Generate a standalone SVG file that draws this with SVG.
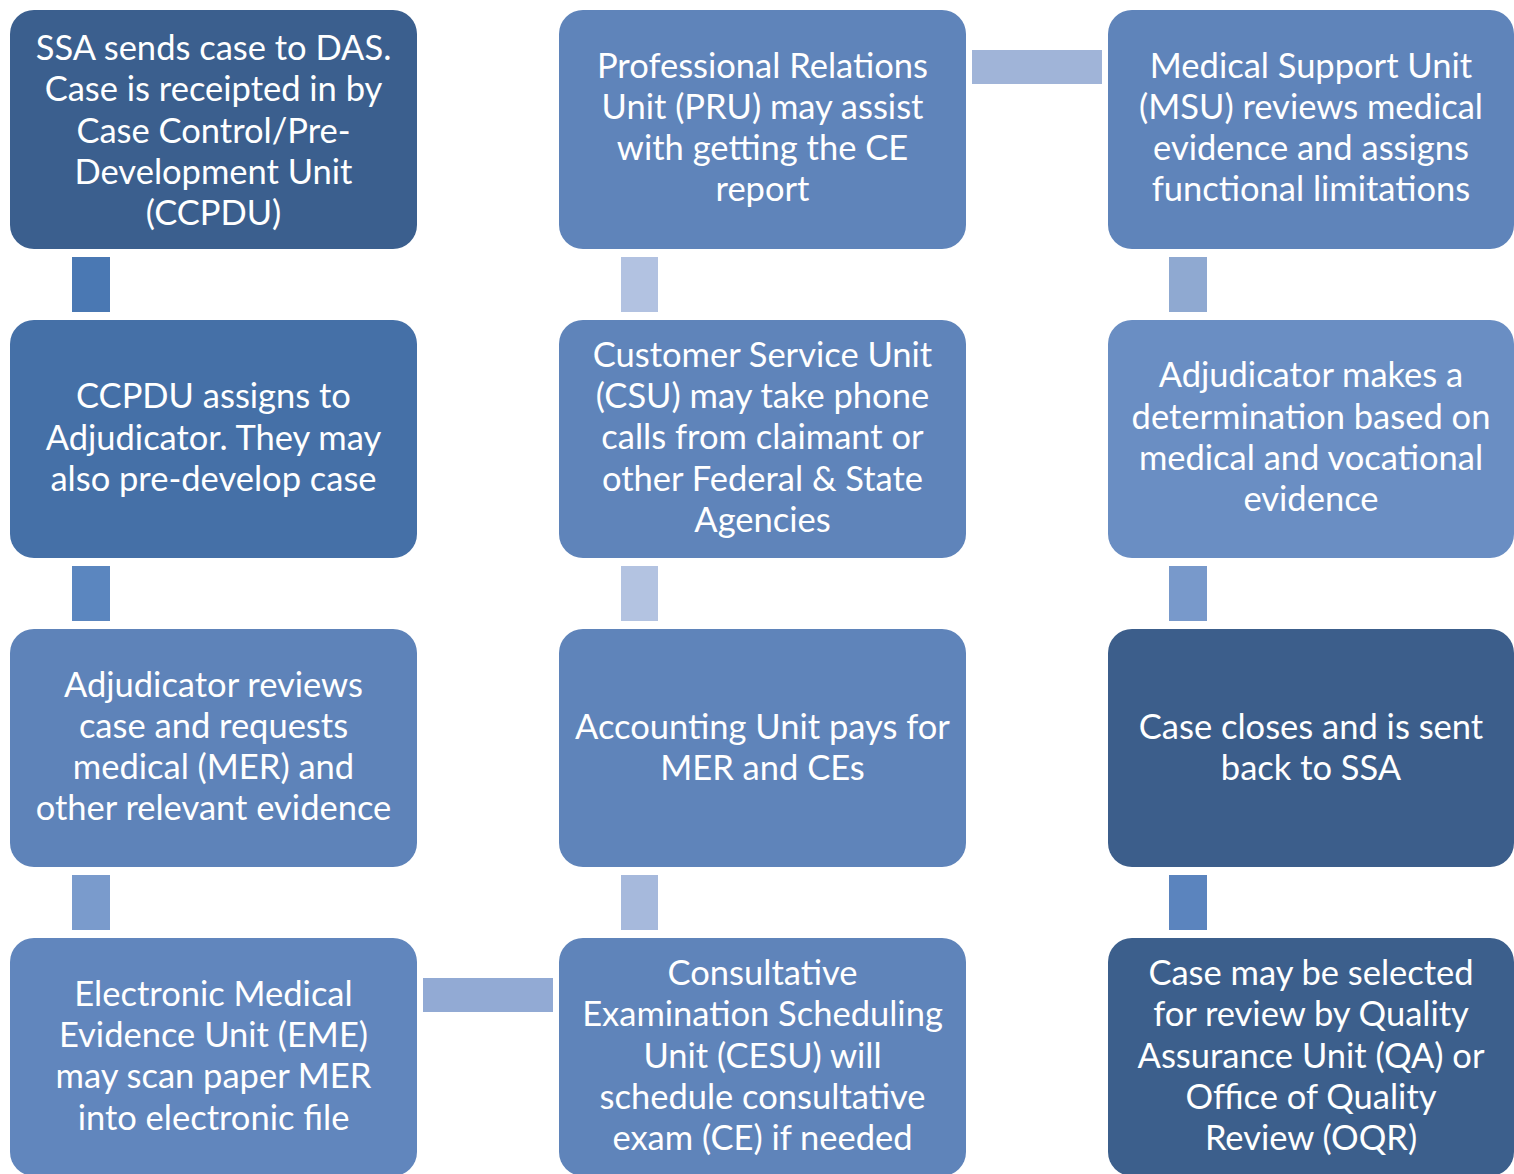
<svg xmlns="http://www.w3.org/2000/svg" width="1514" height="1174" viewBox="0 0 1514 1174">
<style>
.box{stroke:none}
.t{font-family:Lato,"Liberation Sans",sans-serif;font-size:34.5px;fill:#ffffff;text-anchor:middle}
</style>
<rect x="0" y="0" width="1514" height="1174" fill="#ffffff"/>
<g id="connectors">
<rect x="72" y="257" width="38" height="55" fill="#4a78b3"/>
<rect x="72" y="566" width="38" height="55" fill="#5b86bf"/>
<rect x="72" y="875" width="38" height="55" fill="#7a9bcc"/>
<rect x="423" y="978" width="130" height="34" fill="#92aad4"/>
<rect x="621" y="875" width="37" height="55" fill="#a6b9dc"/>
<rect x="621" y="566" width="37" height="55" fill="#b3c3e1"/>
<rect x="621" y="257" width="37" height="55" fill="#b2c2e1"/>
<rect x="972" y="50" width="130" height="34" fill="#a0b4d8"/>
<rect x="1169" y="257" width="38" height="55" fill="#8fa9d1"/>
<rect x="1169" y="566" width="38" height="55" fill="#7899cb"/>
<rect x="1169" y="875" width="38" height="55" fill="#5b84be"/>
</g>
<g id="n1">
<rect class="box" x="10" y="10" width="407" height="239" rx="24" fill="#3b5f8e"/>
<text class="t"><tspan x="213.5" y="60">SSA sends case to DAS.</tspan><tspan x="213.5" y="101">Case is receipted in by</tspan><tspan x="213.5" y="143">Case Control/Pre-</tspan><tspan x="213.5" y="184">Development Unit</tspan><tspan x="213.5" y="225">(CCPDU)</tspan></text>
</g>
<g id="n2">
<rect class="box" x="10" y="320" width="407" height="238" rx="24" fill="#4570a7"/>
<text class="t"><tspan x="213.5" y="408">CCPDU assigns to</tspan><tspan x="213.5" y="450">Adjudicator. They may</tspan><tspan x="213.5" y="491">also pre-develop case</tspan></text>
</g>
<g id="n3">
<rect class="box" x="10" y="629" width="407" height="238" rx="24" fill="#5e83b9"/>
<text class="t"><tspan x="213.5" y="697">Adjudicator reviews</tspan><tspan x="213.5" y="738">case and requests</tspan><tspan x="213.5" y="779">medical (MER) and</tspan><tspan x="213.5" y="820">other relevant evidence</tspan></text>
</g>
<g id="n4">
<rect class="box" x="10" y="938" width="407" height="238" rx="24" fill="#6186bd"/>
<text class="t"><tspan x="213.5" y="1006">Electronic Medical</tspan><tspan x="213.5" y="1047">Evidence Unit (EME)</tspan><tspan x="213.5" y="1088">may scan paper MER</tspan><tspan x="213.5" y="1130">into electronic file</tspan></text>
</g>
<g id="n5">
<rect class="box" x="559" y="938" width="407" height="238" rx="24" fill="#5f84ba"/>
<text class="t"><tspan x="762.5" y="985">Consultative</tspan><tspan x="762.5" y="1026">Examination Scheduling</tspan><tspan x="762.5" y="1068">Unit (CESU) will</tspan><tspan x="762.5" y="1109">schedule consultative</tspan><tspan x="762.5" y="1150">exam (CE) if needed</tspan></text>
</g>
<g id="n6">
<rect class="box" x="559" y="629" width="407" height="238" rx="24" fill="#5f84ba"/>
<text class="t"><tspan x="762.5" y="739">Accounting Unit pays for</tspan><tspan x="762.5" y="780">MER and CEs</tspan></text>
</g>
<g id="n7">
<rect class="box" x="559" y="320" width="407" height="238" rx="24" fill="#5f84ba"/>
<text class="t"><tspan x="762.5" y="367">Customer Service Unit</tspan><tspan x="762.5" y="408">(CSU) may take phone</tspan><tspan x="762.5" y="449">calls from claimant or</tspan><tspan x="762.5" y="491">other Federal &amp; State</tspan><tspan x="762.5" y="532">Agencies</tspan></text>
</g>
<g id="n8">
<rect class="box" x="559" y="10" width="407" height="239" rx="24" fill="#5f84ba"/>
<text class="t"><tspan x="762.5" y="78">Professional Relations</tspan><tspan x="762.5" y="119">Unit (PRU) may assist</tspan><tspan x="762.5" y="160">with getting the CE</tspan><tspan x="762.5" y="201">report</tspan></text>
</g>
<g id="n9">
<rect class="box" x="1108" y="10" width="406" height="239" rx="24" fill="#5f84ba"/>
<text class="t"><tspan x="1311" y="78">Medical Support Unit</tspan><tspan x="1311" y="119">(MSU) reviews medical</tspan><tspan x="1311" y="160">evidence and assigns</tspan><tspan x="1311" y="201">functional limitations</tspan></text>
</g>
<g id="n10">
<rect class="box" x="1108" y="320" width="406" height="238" rx="24" fill="#6a8ec3"/>
<text class="t"><tspan x="1311" y="387">Adjudicator makes a</tspan><tspan x="1311" y="429">determination based on</tspan><tspan x="1311" y="470">medical and vocational</tspan><tspan x="1311" y="511">evidence</tspan></text>
</g>
<g id="n11">
<rect class="box" x="1108" y="629" width="406" height="238" rx="24" fill="#3c5e8b"/>
<text class="t"><tspan x="1311" y="739">Case closes and is sent</tspan><tspan x="1311" y="780">back to SSA</tspan></text>
</g>
<g id="n12">
<rect class="box" x="1108" y="938" width="406" height="238" rx="24" fill="#3c5f8c"/>
<text class="t"><tspan x="1311" y="985">Case may be selected</tspan><tspan x="1311" y="1026">for review by Quality</tspan><tspan x="1311" y="1068">Assurance Unit (QA) or</tspan><tspan x="1311" y="1109">Office of Quality</tspan><tspan x="1311" y="1150">Review (OQR)</tspan></text>
</g>
</svg>
